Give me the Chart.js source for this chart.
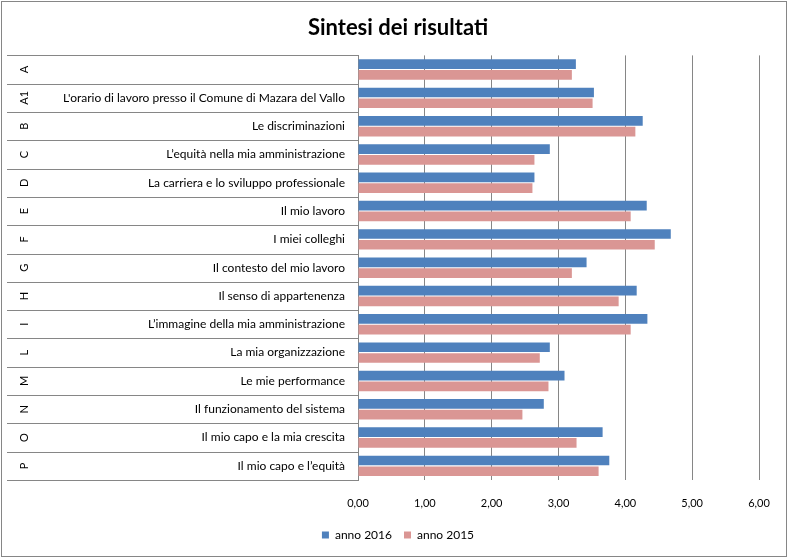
<!DOCTYPE html>
<html><head><meta charset="utf-8">
<script src="https://cdn.jsdelivr.net/npm/chart.js@4"></script>
<style>html,body{margin:0;padding:0;background:#fff}#wrap{width:788px;height:558px}</style>
</head><body><div id="wrap"><canvas id="c" width="788" height="558"></canvas></div>
<script>
const codes = ['A','A1','B','C','D','E','F','G','H','I','L','M','N','O','P'];
const categories = ['', "L'orario di lavoro presso il Comune di Mazara del Vallo", 'Le discriminazioni',
  'L\u2019equit\u00e0 nella mia amministrazione', 'La carriera e lo sviluppo professionale', 'Il mio lavoro',
  'I miei colleghi', 'Il contesto del mio lavoro', 'Il senso di appartenenza',
  'L\u2019immagine della mia amministrazione', 'La mia organizzazione', 'Le mie performance',
  'Il funzionamento del sistema', 'Il mio capo e la mia crescita', 'Il mio capo e l\u2019equit\u00e0'];
const anno2016 = [3.26,3.53,4.26,2.87,2.64,4.32,4.68,3.42,4.17,4.33,2.87,3.09,2.78,3.66,3.76];
const anno2015 = [3.20,3.51,4.15,2.64,2.61,4.08,4.44,3.20,3.90,4.08,2.72,2.85,2.46,3.27,3.60];
const xTicks = [0,1,2,3,4,5,6];
const seriesNames = ['anno 2016','anno 2015'];
const titleText = 'Sintesi dei risultati';

const GRID = '#868686';
const boxPlugin = {
  id: 'box',
  afterDraw(chart) {
    const ctx = chart.ctx, y = chart.scales.y, ca = chart.chartArea;
    const half = (y.getPixelForValue(1) - y.getPixelForValue(0)) / 2;
    ctx.save();
    ctx.strokeStyle = GRID; ctx.lineWidth = 1;
    for (let i = 0; i <= codes.length; i++) {
      const py = Math.round(y.getPixelForValue(i) - half) + 0.5;
      ctx.beginPath(); ctx.moveTo(7, py); ctx.lineTo(ca.left, py); ctx.stroke();
    }
    ctx.strokeRect(1.5, 1.5, 785, 555);
    ctx.fillStyle = '#000'; ctx.font = '11px Lato';
    ctx.textAlign = 'center'; ctx.textBaseline = 'middle';
    codes.forEach((c, i) => {
      ctx.save(); ctx.translate(24, y.getPixelForValue(i)); ctx.rotate(-Math.PI / 2);
      ctx.fillText(c, 0, 0); ctx.restore();
    });
    ctx.restore();
  }
};

function draw() {
  new Chart(document.getElementById('c'), {
    type: 'bar',
    data: {
      labels: categories,
      datasets: [
        { label: seriesNames[0], data: anno2016, backgroundColor: '#4F81BD', categoryPercentage: 0.76, barPercentage: 0.9 },
        { label: seriesNames[1], data: anno2015, backgroundColor: '#DA9694', categoryPercentage: 0.76, barPercentage: 0.9 }
      ]
    },
    options: {
      indexAxis: 'y',
      responsive: false,
      animation: false,
      devicePixelRatio: 1,
      layout: { padding: { top: 5, left: 37, right: 29, bottom: 7 } },
      scales: {
        x: {
          min: 0, max: 6,
          afterBuildTicks: s => { s.ticks = xTicks.map(v => ({ value: v })); },
          afterFit: s => { s.height = 37; },
          ticks: { font: { family: 'Lato', size: 11 }, color: '#000', padding: 17,
                   callback: v => Number(v).toFixed(2).replace('.', ',') },
          grid: { color: GRID, drawTicks: false },
          border: { display: false }
        },
        y: {
          afterFit: s => { s.width = 321; },
          ticks: { font: { family: 'Lato', size: 12 }, color: '#000', padding: 13, autoSkip: false },
          grid: { display: false, drawTicks: false },
          border: { color: GRID }
        }
      },
      plugins: {
        title: { display: true, text: titleText, color: '#000',
                 font: { family: 'Lato', size: 22, weight: 'bold' }, padding: { top: 10, bottom: 14 } },
        legend: { position: 'bottom',
                  labels: { boxWidth: 7, boxHeight: 7, font: { family: 'Lato', size: 12 }, color: '#000', padding: 12 } },
        tooltip: { enabled: false }
      }
    },
    plugins: [boxPlugin]
  });
}
Promise.all([document.fonts.load('12px Lato'), document.fonts.load('bold 22px Lato')]).then(draw, draw);
</script></body></html>
